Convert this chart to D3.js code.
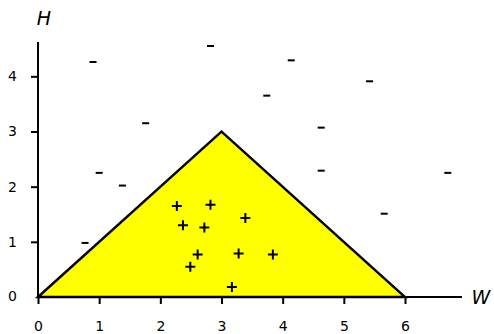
<!DOCTYPE html>
<html>
<head>
<meta charset="utf-8">
<script src="https://cdn.jsdelivr.net/npm/d3@7"></script>
<style>
  body { margin: 0; background: #fff; }
  text { font-family: "DejaVu Sans", Verdana, sans-serif; }
</style>
</head>
<body>
<script>
const width = 494;
const height = 334;

// triangle region (W, H)
const triW = [0, 3, 6];
const triH = [0, 3, 0];

// positive samples
const plusW = [2.27, 2.82, 2.37, 2.72, 3.39, 2.61, 2.49, 3.28, 3.84, 3.17];
const plusH = [1.65, 1.67, 1.30, 1.26, 1.43, 0.77, 0.55, 0.79, 0.77, 0.18];

// negative samples
const minusW = [0.90, 2.82, 1.76, 4.14, 5.42, 3.74, 4.63, 1.00, 1.38, 0.77, 4.63, 6.70, 5.66];
const minusH = [4.26, 4.55, 3.15, 4.29, 3.91, 3.65, 3.07, 2.25, 2.02, 0.98, 2.29, 2.25, 1.51];

const xTicks = [0, 1, 2, 3, 4, 5, 6];
const yTicks = [0, 1, 2, 3, 4];

const x = d3.scaleLinear().domain([0, 6]).range([38, 405]);
const y = d3.scaleLinear().domain([0, 3]).range([297, 131.5]);

const svg = d3.select("body").append("svg")
    .attr("width", width)
    .attr("height", height);

// triangle
svg.append("path")
    .attr("d", d3.line().x((d, i) => x(triW[i])).y((d, i) => y(triH[i]))(triW) + "Z")
    .attr("fill", "#ffff00")
    .attr("stroke", "#000")
    .attr("stroke-width", 2.4)
    .attr("stroke-linejoin", "miter");

// axes
const xAxis = d3.axisBottom(x).tickValues(xTicks).tickSize(7).tickPadding(17).tickFormat(d3.format("d"));
const gx = svg.append("g").attr("transform", `translate(0,${y(0)})`).call(xAxis);
gx.select(".domain").remove();
gx.append("line")
    .attr("x1", x(0)).attr("x2", 462)
    .attr("stroke", "#000").attr("stroke-width", 2);
gx.selectAll(".tick line").attr("stroke-width", 2);
gx.selectAll(".tick text").attr("font-size", 14).attr("fill", "#000")
    .attr("font-family", "DejaVu Sans, sans-serif");

const yAxis = d3.axisLeft(y).tickValues(yTicks.slice(1)).tickSize(7).tickPadding(14).tickFormat(d3.format("d"));
const gy = svg.append("g").attr("transform", `translate(${x(0)},0)`).call(yAxis);
gy.select(".domain").remove();
gy.append("line")
    .attr("y1", y(0)).attr("y2", 42)
    .attr("stroke", "#000").attr("stroke-width", 2);
gy.selectAll(".tick line").attr("stroke-width", 2);
gy.selectAll(".tick text").attr("font-size", 14).attr("fill", "#000")
    .attr("font-family", "DejaVu Sans, sans-serif");

// "0" at the origin on the y axis
gy.append("text")
    .attr("x", -21).attr("y", y(0)).attr("dy", "0.32em")
    .attr("text-anchor", "end")
    .attr("font-size", 14).attr("fill", "#000")
    .text("0");

// axis titles
svg.append("text")
    .attr("x", 44).attr("y", 25)
    .attr("text-anchor", "middle")
    .attr("font-size", 19)
    .attr("font-style", "italic")
    .attr("fill", "#000")
    .text("H");

svg.append("text")
    .attr("x", 481).attr("y", y(0) + 7)
    .attr("text-anchor", "middle")
    .attr("font-size", 19)
    .attr("font-style", "italic")
    .attr("fill", "#000")
    .text("W");

// plus marks
svg.append("g").selectAll("path")
    .data(plusW)
    .join("path")
    .attr("d", (d, i) => {
        const cx = x(d), cy = y(plusH[i]);
        return `M${cx - 5},${cy}H${cx + 5}M${cx},${cy - 5}V${cy + 5}`;
    })
    .attr("stroke", "#000")
    .attr("stroke-width", 2)
    .attr("fill", "none");

// minus marks
svg.append("g").selectAll("path")
    .data(minusW)
    .join("path")
    .attr("d", (d, i) => {
        const cx = x(d), cy = y(minusH[i]);
        return `M${cx - 3.5},${cy}H${cx + 3.5}`;
    })
    .attr("stroke", "#000")
    .attr("stroke-width", 2)
    .attr("fill", "none");
</script>
</body>
</html>
